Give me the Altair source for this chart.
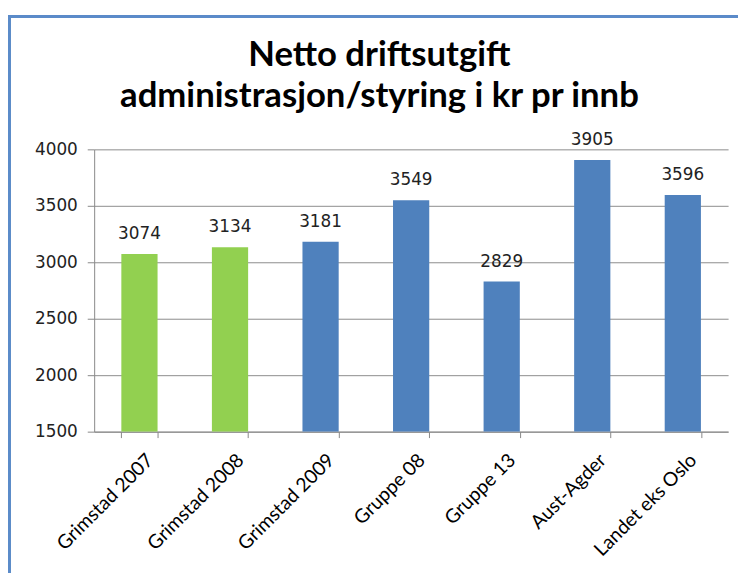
import altair as alt
import pandas as pd

categories = ["Grimstad 2007", "Grimstad 2008", "Grimstad 2009", "Gruppe 08",
              "Gruppe 13", "Aust-Agder", "Landet eks Oslo"]
values = [3074, 3134, 3181, 3549, 2829, 3905, 3596]
groups = ["old", "old", "cur", "cur", "cur", "cur", "cur"]

df = pd.DataFrame({"cat": categories, "val": values, "grp": groups})

W, H = 640, 285
PAD_L, PAD_T = 87, 140

x = alt.X("cat:N", sort=categories, title=None,
          scale=alt.Scale(paddingInner=0.6, paddingOuter=0.3),
          axis=alt.Axis(labelAngle=-45, labelAlign="right", labelBaseline="top",
                        labelFont="Lato", labelFontSize=19.5, labelColor="#000000",
                        labelPadding=13, labelOffset=4, tickBand="extent", tickSize=6,
                        tickColor="#888888", domainColor="#888888", grid=False))
y = alt.Y("val:Q", title=None,
          scale=alt.Scale(domain=[1500, 4000], nice=False, zero=False),
          axis=alt.Axis(values=[1500, 2000, 2500, 3000, 3500, 4000], format="d",
                        labelFont="DejaVu Sans", labelFontSize=17,
                        labelColor="#222222", labelPadding=10, tickSize=7,
                        tickColor="#888888", domainColor="#888888",
                        grid=True, gridColor="#8c8c8c", gridWidth=1))

bars = alt.Chart(df).mark_bar(clip=True).encode(
    x=x, y=y, y2=alt.datum(1500),
    color=alt.Color("grp:N", scale=alt.Scale(domain=["old", "cur"],
                                             range=["#92D050", "#4F81BD"]),
                    legend=None),
)

labels = alt.Chart(df).mark_text(dy=-15, font="DejaVu Sans", fontSize=17,
                                 color="#222222", baseline="alphabetic").encode(
    x=alt.X("cat:N", sort=categories), y="val:Q", text="val:Q"
)

border = alt.Chart(df).mark_rect(fill=None, stroke="#5B8BC9", strokeWidth=3,
                                 clip=False).encode(
    x=alt.value(-PAD_L + 1), x2=alt.value(W + 40),
    y=alt.value(-PAD_T + 6), y2=alt.value(H + 200)
)

chart = alt.layer(border, bars, labels).properties(
    width=W, height=H,
    autosize=alt.AutoSizeParams(type="none"),
    padding={"left": PAD_L, "top": PAD_T, "right": 10, "bottom": 140},
    title=alt.Title(["Netto driftsutgift", "administrasjon/styring i kr pr innb"],
                    font="Lato", fontSize=35, fontWeight="bold", color="#000000",
                    anchor="middle", dx=-32, offset=0, dy=128, baseline="alphabetic",
                    lineHeight=42),
).configure_view(stroke=None)

chart.save("out.html", embed_options={"renderer": "svg", "actions": False})
